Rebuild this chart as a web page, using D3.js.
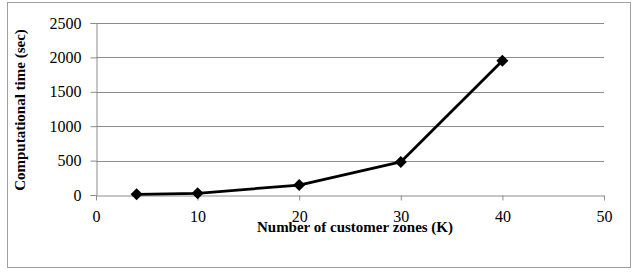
<!DOCTYPE html>
<html>
<head>
<meta charset="utf-8">
<script src="https://cdn.jsdelivr.net/npm/d3@7"></script>
<style>
  body { margin: 0; background: #fff; }
  svg { display: block; font-family: "Liberation Serif", "Times New Roman", serif; }
</style>
</head>
<body>
<svg id="chart" width="634" height="272"></svg>
<script>
const zones = [4, 10, 20, 30, 40];
const times = [10, 25, 145, 480, 1950];
const xTicks = [0, 10, 20, 30, 40, 50];
const yTicks = [0, 500, 1000, 1500, 2000, 2500];

const svg = d3.select("#chart");

// outer frame
svg.append("rect")
  .attr("x", 7.5).attr("y", 2.5)
  .attr("width", 623).attr("height", 265)
  .attr("fill", "#fff")
  .attr("stroke", "#a0a0a0");

const x = d3.scaleLinear().domain([0, 50]).range([96, 604]);
const y = d3.scaleLinear().domain([0, 2500]).range([195, 23]);

// gridlines
svg.append("g")
  .selectAll("line")
  .data(yTicks.slice(1))
  .join("line")
  .attr("x1", x(0)).attr("x2", x(50))
  .attr("y1", d => Math.round(y(d)) + 0.5)
  .attr("y2", d => Math.round(y(d)) + 0.5)
  .attr("stroke", "#8c8c8c");

// y axis
const yAxis = svg.append("g")
  .attr("transform", `translate(${x(0) + 0.5},0)`)
  .call(d3.axisLeft(y).tickValues(yTicks).tickSize(6).tickPadding(9).tickFormat(d3.format("d")))
  .attr("font-family", "Liberation Serif")
  .attr("font-size", 16);
yAxis.select(".domain").attr("stroke", "#8c8c8c");
yAxis.selectAll(".tick line").attr("stroke", "#8c8c8c");
yAxis.selectAll(".tick text").attr("fill", "#000");

// x axis
const xAxis = svg.append("g")
  .attr("transform", `translate(0,${Math.round(y(0)) + 0.5})`)
  .call(d3.axisBottom(x).tickValues(xTicks).tickSizeInner(5).tickSizeOuter(0).tickPadding(10))
  .attr("font-family", "Liberation Serif")
  .attr("font-size", 16);
xAxis.select(".domain").attr("stroke", "#8c8c8c");
xAxis.selectAll(".tick line").attr("stroke", "#8c8c8c");
xAxis.selectAll(".tick text").attr("fill", "#000");

// axis titles
svg.append("text")
  .attr("transform", "translate(25,110) rotate(-90)")
  .attr("text-anchor", "middle")
  .attr("font-size", 15).attr("font-weight", "bold")
  .text("Computational time (sec)");

svg.append("text")
  .attr("x", 355).attr("y", 232)
  .attr("text-anchor", "middle")
  .attr("font-size", 15).attr("font-weight", "bold")
  .text("Number of customer zones (K)");

// line
const pts = zones.map((z, i) => [z, times[i]]);
svg.append("path")
  .datum(pts)
  .attr("fill", "none")
  .attr("stroke", "#000")
  .attr("stroke-width", 2.8)
  .attr("stroke-linejoin", "round")
  .attr("d", d3.line().x(d => x(d[0])).y(d => y(d[1])));

// diamond markers
svg.append("g")
  .selectAll("path")
  .data(pts)
  .join("path")
  .attr("transform", d => `translate(${x(d[0])},${y(d[1])})`)
  .attr("d", "M0,-6L6,0L0,6L-6,0Z")
  .attr("fill", "#000");
</script>
</body>
</html>
